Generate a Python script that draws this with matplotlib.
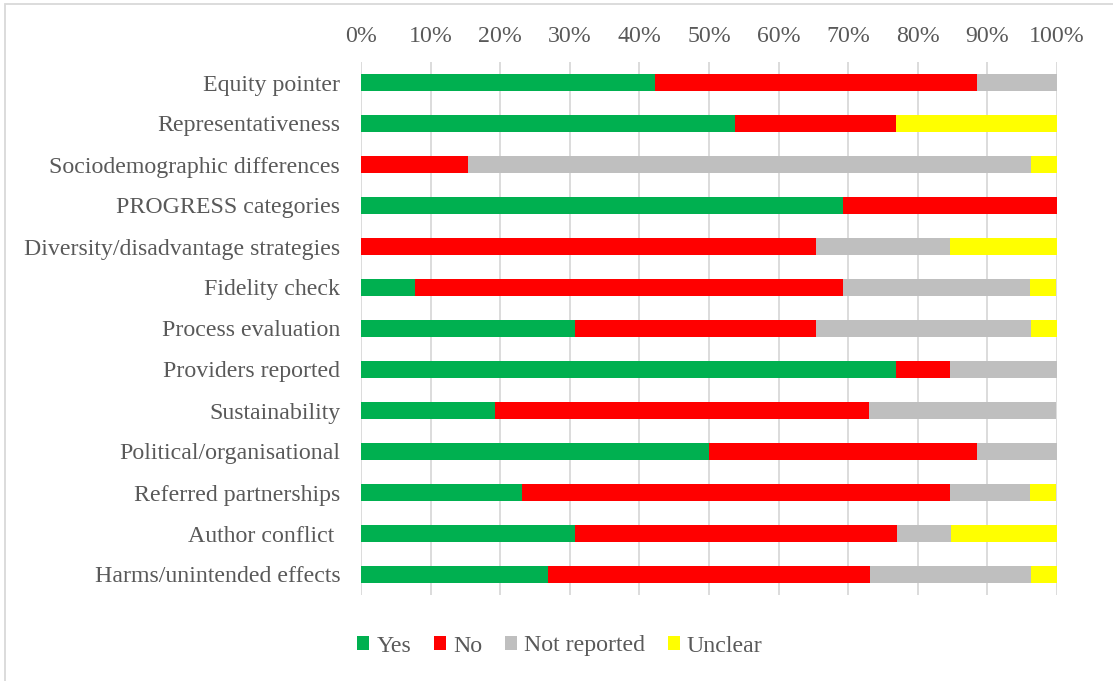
import matplotlib
matplotlib.use("Agg")
import matplotlib.pyplot as plt
from matplotlib.patches import Rectangle
import numpy as np

categories = [
    "Equity pointer",
    "Representativeness",
    "Sociodemographic differences",
    "PROGRESS categories",
    "Diversity/disadvantage strategies",
    "Fidelity check",
    "Process evaluation",
    "Providers reported",
    "Sustainability",
    "Political/organisational",
    "Referred partnerships",
    "Author conflict ",
    "Harms/unintended effects",
]
yes = [42.3, 53.8, 0.0, 69.2, 0.0, 7.7, 30.8, 76.9, 19.2, 50.0, 23.1, 30.8, 26.9]
no = [46.2, 23.1, 15.4, 30.8, 65.4, 61.5, 34.6, 7.7, 53.8, 38.5, 61.5, 46.2, 46.2]
not_reported = [11.5, 0.0, 80.8, 0.0, 19.2, 26.9, 30.8, 15.4, 26.9, 11.5, 11.5, 7.7, 23.1]
unclear = [0.0, 23.1, 3.8, 0.0, 15.4, 3.8, 3.8, 0.0, 0.0, 0.0, 3.8, 15.4, 3.8]
series_names = ["Yes", "No", "Not reported", "Unclear"]
colors = ["#00B050", "#FF0000", "#BFBFBF", "#FFFF00"]
xticks = [0, 10, 20, 30, 40, 50, 60, 70, 80, 90, 100]

plt.rcParams['font.family'] = ['Liberation Serif', 'DejaVu Serif']
text_color = "#595959"
fs = 17.2

fig = plt.figure(figsize=(11.13, 6.81), dpi=100)
ax = fig.add_axes([361/1113, 1-595/681, (1057-361)/1113, (595-62)/681])

y = np.arange(len(categories))
left = np.zeros(len(categories))
for vals, name, c in zip([yes, no, not_reported, unclear], series_names, colors):
    vals = np.array(vals)
    ax.barh(y, vals, left=left, height=0.41, color=c, label=name, zorder=3)
    left = left + vals

ax.set_xlim(0, 100)
ax.set_ylim(len(categories)-0.5, -0.5)
ax.set_xticks(xticks)
ax.set_xticklabels([f"{t}%" for t in xticks])
ax.xaxis.tick_top()
ax.set_yticks(y)
ax.set_yticklabels(categories)
ax.tick_params(axis='x', length=0, pad=10.8, labelsize=fs, labelcolor=text_color)
ax.tick_params(axis='y', length=0, pad=15, labelsize=fs, labelcolor=text_color)
ax.grid(axis='x', color="#D9D9D9", linewidth=1.3, zorder=0)
for s in ax.spines.values():
    s.set_visible(False)

handles, labels = ax.get_legend_handles_labels()
leg = fig.legend(handles, labels, loc='center', bbox_to_anchor=(560/1113, 1-646/681),
                 ncol=4, frameon=False, fontsize=fs, handlelength=0.5, handleheight=0.5,
                 handletextpad=0.3, columnspacing=0.95, labelcolor=text_color)

fig.patches.append(Rectangle((5/1113, -0.1), 1.2, 1.1 - 4/681, transform=fig.transFigure,
                             fill=False, edgecolor="#D9D9D9", linewidth=1.3))

fig.savefig("out.png", dpi=100)
